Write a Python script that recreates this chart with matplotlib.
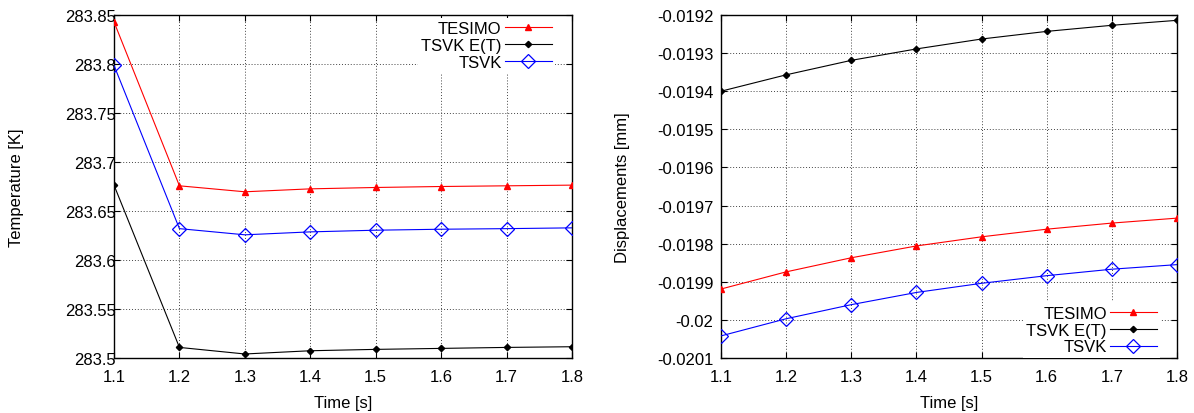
import matplotlib
matplotlib.use("Agg")
import matplotlib.pyplot as plt
from matplotlib.ticker import FormatStrFormatter, FuncFormatter

plt.rcParams['font.family'] = ['Liberation Sans', 'DejaVu Sans']
plt.rcParams['axes.unicode_minus'] = False

time_s = [1.1, 1.2, 1.3, 1.4, 1.5, 1.6, 1.7, 1.8]

# Temperature [K]
temp_tesimo = [283.843, 283.6757, 283.6696, 283.6726, 283.674, 283.675, 283.6757, 283.6764]
temp_tsvk_et = [283.6764, 283.5108, 283.5041, 283.5074, 283.5088, 283.5098, 283.5108, 283.5115]
temp_tsvk = [283.7986, 283.632, 283.6257, 283.6287, 283.6304, 283.6314, 283.632, 283.6328]

# Displacements [mm]
disp_tesimo = [-0.019919, -0.019874, -0.019837, -0.019806, -0.019782, -0.019762, -0.019746, -0.019733]
disp_tsvk_et = [-0.019400, -0.019357, -0.019319, -0.019289, -0.019263, -0.019243, -0.019227, -0.019214]
disp_tsvk = [-0.020042, -0.019997, -0.019960, -0.019928, -0.019904, -0.019884, -0.019867, -0.019855]

temp_ticks = [283.5, 283.55, 283.6, 283.65, 283.7, 283.75, 283.8, 283.85]
disp_ticks = [-0.0201, -0.0200, -0.0199, -0.0198, -0.0197, -0.0196, -0.0195, -0.0194, -0.0193, -0.0192]
time_ticks = [1.1, 1.2, 1.3, 1.4, 1.5, 1.6, 1.7, 1.8]

series_labels = ["TESIMO", "TSVK E(T)", "TSVK"]

W, H = 1194, 414
fig = plt.figure(figsize=(W / 100, H / 100), dpi=100)

ax1 = fig.add_axes([114 / W, (H - 359) / H, 458 / W, 343 / H])
ax2 = fig.add_axes([721 / W, (H - 359) / H, 456 / W, 343 / H])

FS = 12


def draw(ax, tes, et, sv, yticks, ylim, ylabel, ytick_pad, leg_anchor, ylabel_x):
    ax.plot(time_s, tes, color='red', lw=0.8, marker='^', ms=4.8, mec='red', mfc='red',
            label=series_labels[0], zorder=3)
    ax.plot(time_s, et, color='black', lw=0.8, marker='D', ms=3.2, mec='black', mfc='black',
            label=series_labels[1], zorder=3)
    ax.plot(time_s, sv, color='blue', lw=0.8, marker='D', ms=7.5, mec='blue', mfc='none', mew=0.9,
            label=series_labels[2], zorder=3)
    ax.set_xlim(1.1, 1.8)
    ax.set_ylim(*ylim)
    ax.set_xticks(time_ticks)
    ax.set_yticks(yticks)
    ax.xaxis.set_major_formatter(FormatStrFormatter('%g'))
    ax.yaxis.set_major_formatter(FuncFormatter(lambda v, p: '%g' % round(v, 6)))
    ax.tick_params(direction='in', top=True, right=True, length=4, width=0.8, labelsize=FS)
    ax.tick_params(axis='x', pad=8)
    ax.tick_params(axis='y', pad=ytick_pad)
    ax.grid(True, color='#444444', linestyle=(0, (1, 2)), lw=0.7, zorder=0)
    for s in ax.spines.values():
        s.set_linewidth(1.0)
        s.set_color('black')
    ax.set_xlabel("Time [s]", fontsize=FS, labelpad=8)
    ax.set_ylabel(ylabel, fontsize=FS, va='center')
    ax.yaxis.set_label_coords(ylabel_x, 0.5)
    leg = ax.legend(loc='upper right', bbox_to_anchor=leg_anchor, fontsize=FS, markerfirst=False,
                    frameon=True, fancybox=False, framealpha=1, handlelength=2.8, handletextpad=0.2,
                    labelspacing=0.11, borderpad=0.2, borderaxespad=0.0, numpoints=1)
    leg.get_frame().set_edgecolor('none')
    leg.get_frame().set_facecolor('white')


draw(ax1, temp_tesimo, temp_tsvk_et, temp_tsvk, temp_ticks, (283.5, 283.85),
     "Temperature [K]", -1.5, (0.963, 0.992), (17 - 114) / 458)
draw(ax2, disp_tesimo, disp_tsvk_et, disp_tsvk, disp_ticks, (-0.0201, -0.0192),
     "Displacements [mm]", 5.5, (0.963, 0.162), (622 - 721) / 456)

fig.savefig("out.png", dpi=100)
